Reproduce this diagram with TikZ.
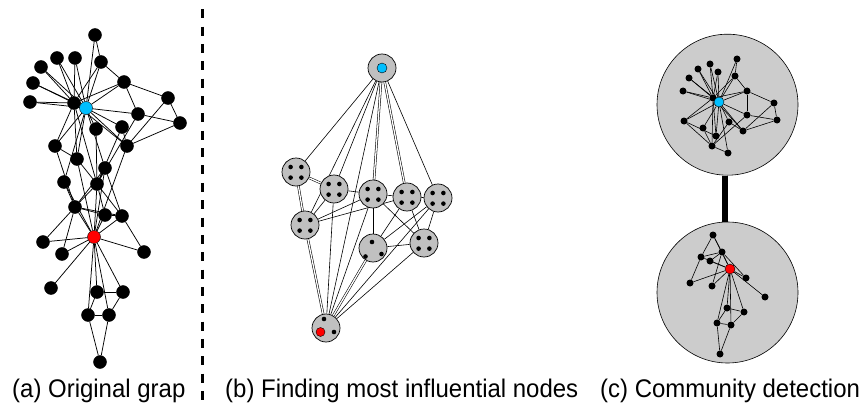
\documentclass[tikz,border=0pt]{standalone}
\usepackage{fontspec}
\setmainfont{Liberation Sans}
\pgfdeclarelayer{back}
\pgfdeclarelayer{bg}
\pgfsetlayers{back,bg,main}
\definecolor{cyanC}{RGB}{0,191,255}
\definecolor{superG}{RGB}{192,192,192}
\definecolor{commG}{RGB}{204,204,204}
\tikzset{
  anode/.style={circle,fill=black,draw=black,line width=0.4pt,minimum size=13pt,inner sep=0pt},
  aedge/.style={line width=0.75pt},
  snode/.style={circle,fill=superG,draw=black,line width=0.7pt,minimum size=28pt,inner sep=0pt},
  sdot/.style={circle,fill=black,minimum size=4.6pt,inner sep=0pt},
  bedge/.style={line width=0.6pt},
  bdbl/.style={double,double distance=1.3pt,line width=0.55pt},
  comm/.style={circle,fill=commG,draw=black,line width=0.6pt,minimum size=141pt,inner sep=0pt},
  cnode/.style={circle,fill=black,minimum size=7pt,inner sep=0pt},
  cedge/.style={line width=0.6pt},
  capt/.style={anchor=base west,inner sep=0pt,font=\fontsize{25.5}{30}\selectfont},
  sep/.style={line width=3pt,dash pattern=on 9pt off 8.35pt}
}
\newcommand{\captxt}[1]{\scalebox{0.94}[1]{#1}}
\begin{document}
\begin{tikzpicture}[x=1pt,y=-1pt]
\useasboundingbox (0,0) rectangle (865,404);

% ---------- panel (a) ----------
\foreach \n/\x/\y in {2/75/207,3/97/184,4/122/216,5/97/292,6/109/315,7/88/315,8/105/215,
  9/77/159,10/96/129,11/123/292,12/51/288,13/144/252,14/105/168,15/57/58,16/75/58,17/100/362,
  18/43/242,19/41/67,20/64/182,21/33/83,22/62/254,23/30/102,24/124/82,25/180/123,26/168/98,
  27/95/35,28/138/114,29/122/127,30/101/62,31/55/146,32/127/146,33/74/103}
  \node[anode] (a\n) at (\x,\y) {};
\node[anode,fill=cyanC] (a34) at (86,108) {};
\node[anode,fill=red] (a1) at (94,237) {};

\begin{pgfonlayer}{bg}
\foreach \u/\v in {1/2,1/3,1/4,1/5,1/6,1/7,1/8,1/9,1/11,1/12,1/13,1/14,1/18,1/20,1/22,1/32,
  2/3,2/4,2/8,2/14,2/18,2/20,2/22,2/31,3/4,3/8,3/9,3/10,3/14,3/28,3/29,3/33,4/8,4/13,4/14,
  5/7,5/11,6/7,6/11,6/17,7/17,9/31,9/33,9/34,10/34,14/34,15/33,15/34,16/33,16/34,19/33,19/34,
  20/34,21/33,21/34,23/33,23/34,24/26,24/28,24/30,24/33,24/34,25/26,25/28,25/32,26/32,
  27/30,27/34,28/34,29/32,29/34,30/33,30/34,31/33,31/34,32/33,32/34,33/34}
  \draw[aedge] (a\u) -- (a\v);
\end{pgfonlayer}

% separator
\coordinate (dtop) at (202,9.3);
\coordinate (dbot) at (202,402);
\draw[sep] (dtop) -- (dbot);

% ---------- panel (b) ----------
\node[snode] (bT) at (382,68) {};
\node[snode] (bA) at (296,172) {};
\node[snode] (bB) at (334,189) {};
\node[snode] (bC) at (373,194) {};
\node[snode] (bD) at (407,197) {};
\node[snode] (bE) at (438,198) {};
\node[snode] (bF) at (305,225) {};
\node[snode] (bG) at (373,248) {};
\node[snode] (bH) at (424,243) {};
\node[snode] (bR) at (326,328) {};

\node[circle,fill=cyanC,draw=black,line width=0.4pt,minimum size=10pt,inner sep=0pt] (bTc) at (bT.center) {};
\foreach \s in {A,B,C,D,E,F,H}
  \foreach \dx/\dy/\k in {-5.4/-5/1,5.4/-5/2,-5.4/5.6/3,5.4/5.6/4}
    \node[sdot] (d\s\k) at ([shift={(\dx,\dy)}]b\s.center) {};
\node[sdot] (dG1) at ([shift={(-1,-6)}]bG.center) {};
\node[sdot] (dG2) at ([shift={(-7.5,8.5)}]bG.center) {};
\node[sdot] (dG3) at ([shift={(8.5,6)}]bG.center) {};
\node[sdot] (dR1) at ([shift={(-2,-9)}]bR.center) {};
\node[sdot] (dR2) at ([shift={(8,4)}]bR.center) {};
\node[circle,fill=red,draw=black,line width=0.4pt,minimum size=9pt,inner sep=0pt] (dR3) at ([shift={(-5.5,4)}]bR.center) {};

\begin{pgfonlayer}{bg}
\foreach \u/\v in {T/A,T/F,T/B,T/R,T/E,B/C,C/D,D/E,B/F,F/C,F/D,B/R,C/R,H/R,E/R,
  C/G,D/G,E/G,G/H,C/H,D/H,E/H}
  \draw[bedge] (b\u) -- (b\v);
\foreach \u/\v in {T/C,T/D,A/B,A/F,F/R,G/R}
  \draw[bdbl] (b\u) -- (b\v);
\end{pgfonlayer}

% ---------- panel (c) ----------
\begin{pgfonlayer}{back}
\node[comm] (ctop) at (727.5,104.7) {};
\node[comm] (cbot) at (727.5,292.5) {};
\draw[line width=6pt] ([xshift=-2.5pt]ctop.south) -- ([xshift=-2.5pt]cbot.north);
\end{pgfonlayer}

\foreach \n/\x/\y in {33/713/98,15/710/64,16/698/69,19/718/72,21/689/78,23/683/91,27/737/59,
  30/735/76,24/747/91,26/774/103,25/777/120,28/747/115,29/729/122,32/743/131,9/684/121,
  14/703/128,31/716/136,3/712/146,10/728/153,
  8/713/235,4/701/257,2/722/252,18/710/261,13/690/283,22/712/286,20/746/278,12/765/297,
  5/727/308,11/744/312,7/717/323,6/731/325,17/720/354}
  \node[cnode] (c\n) at (\x,\y) {};
\node[circle,fill=cyanC,draw=black,line width=0.4pt,minimum size=10pt,inner sep=0pt] (c34) at (719,102) {};
\node[circle,fill=red,draw=black,line width=0.4pt,minimum size=10pt,inner sep=0pt] (c1) at (730,269) {};

\begin{pgfonlayer}{bg}
\foreach \u/\v in {3/9,3/10,3/14,3/28,3/29,3/33,9/31,9/33,9/34,10/34,14/34,15/33,15/34,
  16/33,16/34,19/33,19/34,21/33,21/34,23/33,23/34,24/26,24/28,24/30,24/33,24/34,25/26,25/28,
  25/32,26/32,27/30,27/34,28/34,29/32,29/34,30/33,30/34,31/33,31/34,32/33,32/34,33/34,
  1/2,1/4,1/5,1/6,1/7,1/8,1/11,1/12,1/13,1/18,1/20,1/22,2/4,2/8,2/18,2/20,2/22,4/8,4/13,
  5/7,5/11,6/7,6/11,6/17,7/17}
  \draw[cedge] (c\u) -- (c\v);
\end{pgfonlayer}

% ---------- captions ----------
\node[capt] (capa) at (12,397) {\captxt{(a) Original grap}};
\node[capt] (capb) at (225,397) {\captxt{(b) Finding most influential nodes}};
\node[capt] (capc) at (600,397) {\captxt{(c) Community detection}};
\end{tikzpicture}
\end{document}
